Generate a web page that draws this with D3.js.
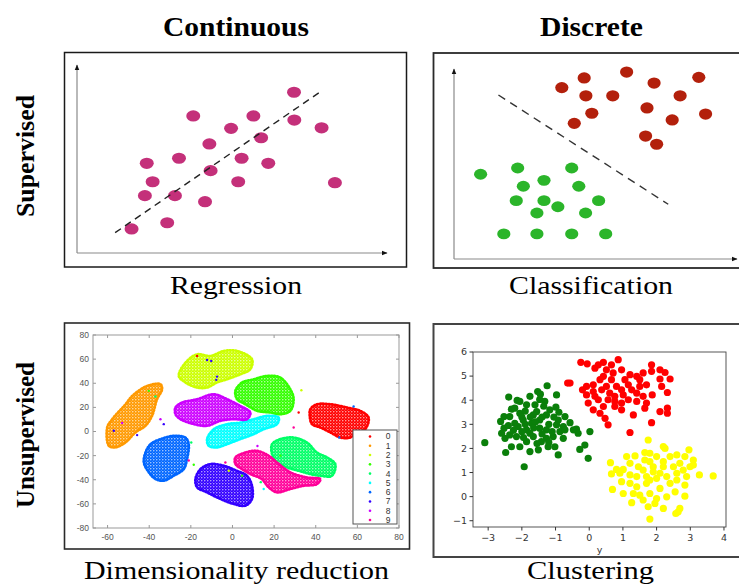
<!DOCTYPE html>
<html lang="en">
<head>
<meta charset="UTF-8">
<title>Types of machine learning</title>
<style>
  body { margin: 0; background: #fff; }
  svg { display: block; }
</style>
</head>
<body>
<svg id="chart"></svg>
<script src="https://cdn.jsdelivr.net/npm/d3@7/dist/d3.min.js"></script>
<script>
// ---- data ----
var colTitles = ["Continuous", "Discrete"];
var rowTitles = ["Supervised", "Unsupervised"];
var captions = ["Regression", "Classification", "Dimensionality reduction", "Clustering"];

// regression (arbitrary 0-10 units)
var regX = [7.0, 3.75, 5.69, 7.01, 4.97, 7.89, 5.94, 4.27, 2.25, 3.29, 5.31, 6.17, 4.31, 2.44, 5.2, 8.32, 2.19, 3.16, 4.13, 2.91, 1.76];
var regY = [8.55, 7.29, 7.29, 7.07, 6.63, 6.66, 6.13, 5.8, 4.77, 5.04, 5.04, 4.77, 4.38, 3.79, 3.79, 3.74, 3.05, 3.05, 2.73, 1.61, 1.28];
var regLine = [[1.23, 1.08], [7.9, 8.63]];

// classification (0-10 units)
var clsRedX = [3.81, 4.6, 6.1, 7.07, 8.65, 4.66, 5.61, 7.99, 6.82, 7.71, 8.89, 4.87, 4.25, 6.77, 7.16];
var clsRedY = [9.02, 9.53, 9.84, 9.26, 9.56, 8.59, 8.59, 8.59, 7.95, 7.32, 7.63, 7.67, 7.14, 6.47, 6.04];
var clsGreenX = [0.94, 2.25, 4.16, 3.18, 2.45, 4.41, 2.2, 3.18, 3.67, 5.11, 2.93, 4.65, 1.76, 2.93, 4.16, 5.36];
var clsGreenY = [4.46, 4.79, 4.79, 4.14, 3.83, 3.83, 3.07, 3.07, 2.75, 3.07, 2.42, 2.42, 1.32, 1.32, 1.32, 1.32];
var clsLine = [[1.57, 8.63], [7.57, 2.88]];

// t-SNE embedding: outline of each digit cluster
var tsneClasses = ["0", "1", "2", "3", "4", "5", "6", "7", "8", "9"];
var tsneXTicks = [-60, -40, -20, 0, 20, 40, 60, 80];
var tsneYTicks = [-80, -60, -40, -20, 0, 20, 40, 60, 80];
var hull0 = [[37.4,18.5],[40.6,22.6],[47,22.6],[55,19.9],[61.4,17.1],[65.4,11.6],[63.8,1.9],[59.8,-0.8],[56.6,-5],[51.8,-5],[47,-0.8],[42.2,3.3],[38.2,6.1],[37.1,13]];
var hull1 = [[-60.2,3.3],[-57.8,10.2],[-51.4,22.6],[-48.2,29.5],[-41,37.8],[-34.6,39.2],[-33.8,35],[-36.2,26.8],[-38.6,13],[-41.8,4.7],[-46.6,-0.8],[-51.4,-9.1],[-56.2,-13.2],[-59.4,-11.9]];
var hull2 = [[-25.8,46.1],[-22.6,57.1],[-17,64],[-10.6,62.6],[-4.2,66.8],[2.2,66.8],[9.4,59.9],[8.6,51.6],[3.8,47.4],[-2.6,43.3],[-7.4,40.6],[-12.2,36.4],[-17,36.4],[-22.6,40.6]];
var hull3 = [[1.4,33.7],[4.6,40.6],[10.2,43.3],[16.6,46.1],[23,44.7],[27.8,35],[29.4,26.8],[27.8,17.1],[23,14.3],[18.2,15.7],[11.8,17.1],[6.2,22.6],[2.2,26.8]];
var hull4 = [[19,-10.5],[23,-6.3],[29.4,-5],[35.8,-9.1],[40.6,-17.4],[45.4,-21.5],[49.4,-27],[47.8,-36.7],[42.2,-36.7],[37.4,-35.3],[31.8,-32.6],[26.2,-29.8],[21.4,-25.7],[19,-18.8]];
var hull5 = [[-12.2,-6.3],[-9,1.9],[-2.6,6.1],[3.8,7.4],[10.2,10.2],[16.6,13],[22.2,11.6],[21.4,6.1],[15,1.9],[10.2,-2.2],[3.8,-6.3],[-2.6,-10.5],[-7.4,-13.2],[-11.4,-11.9]];
var hull6 = [[-41.8,-17.4],[-39.4,-10.5],[-34.6,-6.3],[-28.2,-3.6],[-22.6,-5],[-21,-10.5],[-21.8,-22.9],[-23.4,-31.2],[-28.2,-36.7],[-33,-40.8],[-37,-39.4],[-40.2,-33.9],[-42.6,-25.7]];
var hull7 = [[-17.8,-39.4],[-15.4,-31.2],[-10.6,-27],[-4.2,-28.4],[2.2,-32.6],[7,-36.7],[9.4,-45],[9.4,-56],[6.2,-61.5],[0.6,-60.1],[-5.8,-56],[-12.2,-50.5],[-17,-46.3]];
var hull8 = [[-27.4,19.9],[-24.2,24],[-17,26.8],[-9,30.9],[-2.6,26.8],[3.8,21.2],[8.6,15.7],[7,10.2],[0.6,10.2],[-5.8,8.8],[-12.2,4.7],[-18.6,6.1],[-25,10.2],[-27.4,14.3]];
var hull9 = [[1.4,-21.5],[6.2,-17.4],[11.8,-16],[17.4,-20.1],[21.4,-25.7],[27.8,-33.9],[35.8,-38.1],[42.2,-39.4],[40.6,-43.6],[34.2,-45],[27.8,-47.7],[21.4,-50.5],[17.4,-46.3],[14,-39.4],[8.6,-35.3],[4.6,-31.2],[1.4,-27]];
var tsneHulls = [hull0, hull1, hull2, hull3, hull4, hull5, hull6, hull7, hull8, hull9];
// stray points: [x, y, class]
var tsneStray = [[-17,62.6,0],[-12.2,59.3,7],[-10.2,58.5,7],[-7.4,45.5,7],[-7.8,42.8,7],[-34.6,10.2,8],[-33,6.1,7],[-57,0.6,7],[-53,7,8],[-45.8,-3,7],
  [-18.6,-27.6,3],[-23,-12,6],[-19.8,-9.1,4],[13.6,-42,4],[15,-47.7,5],[33.1,34.2,2],[31.8,15.7,0],[29.4,3.3,9],[51.3,-5,6],[58.2,20.7,6],
  [23,-20,3],[-3.4,-25.7,9],[-1.8,-32.6,2],[4.6,-36.7,3],[-40.2,33.7,3],[-37,29,4],[-21,-24,9],[12,-12,8]];

// clustering: [x, y] per cluster
var greenPts = [[-3.1,2.24],[-1.93,1.24],[-2.39,4.13],[-2.63,3.12],[-2.48,1.83],[-2.31,3.63],[-2.14,3.99],[-2.06,3.95],[-1.76,4.16],[-1.53,4.36],[-1.25,4.6],[-1.32,3.95],[-0.97,4.22],[-0.99,3.71],[-0.92,1.73],[-0.72,3.32],[-0.57,3.07],[-0.38,2.8],[-0.33,2.63],[-0.13,2.14],[-0.28,1.96],[0.02,2.7],[-0.03,1.59],[-1.76,1.87],[-1.51,1.94],[-1.22,2.07],[-1.42,2.28],[-2.06,2.07],[-2.31,2.07],[-2.5,2.42],[-2.53,2.84],[-2.53,3.32],[-2.36,3.32],[-2.11,2.91],[-1.86,2.77],[-1.66,2.49],[-1.47,3.18],[-1.27,2.77],[-1.07,2.49],[-0.87,2.7],[-0.77,2.91],[-1.17,3.6],[-1.56,3.53],[-1.86,3.81],[-2.06,3.46],[-1.71,3.04],[-2.21,3.04],[-1.96,3.18],[-0.77,2.42],[-0.47,2.77],[-1.27,2.42],[-1.86,2.28],[-2.16,2.49],[-1.02,2.07],[-1.47,4.03],[-1.61,3.81],[-1.27,3.39],[-0.92,3.18],[-0.72,2.77],[-2.6,2.63],[-2.36,2.56],[-1.76,2.63],[-1.47,2.84],[-0.97,2.98],[-2.21,3.67],[-1.66,3.39],
  [-2.0,2.7],[-1.9,3.0],[-1.6,3.1],[-1.4,2.6],[-1.2,3.0],[-1.05,3.3],[-1.35,3.75],[-1.9,3.55],[-2.25,2.75],[-1.55,2.2],[-1.1,2.7],[-2.0,3.3],[-1.75,3.3],[-1.4,3.3],[-1.65,2.85],[-2.4,2.95],[-1.2,2.25],[-0.9,3.5],[-1.45,4.25],[-1.95,2.45]];
var redPts = [[-0.25,5.57],[-0.06,5.51],[-0.64,4.71],[-0.57,4.71],[-0.2,4.43],[-0.08,4.57],[0.12,4.64],[0.17,5.33],[0.27,5.47],[0.42,5.57],[0.66,5.47],[0.86,5.68],[0.96,5.26],[1.21,5.06],[1.41,4.99],[1.85,5.47],[1.85,5.2],[2.1,5.26],[2.25,5.15],[2.4,4.88],[2.1,4.88],[2.15,4.57],[2.32,4.32],[2.1,3.53],[2.32,3.67],[2.32,3.46],[1.85,3.07],[1.21,2.66],[0.56,2.98],[0.12,3.6],[0.32,3.46],[0.47,3.25],[0.96,3.6],[1.31,3.39],[1.65,3.67],[1.6,4.16],[1.87,4.22],[1.7,4.64],[-0.03,3.88],[0.17,4.16],[0.37,4.43],[0.56,4.02],[0.76,4.16],[0.96,4.43],[1.16,4.02],[1.41,4.29],[1.5,4.57],[0.42,4.99],[0.66,4.85],[0.81,4.57],[0.61,4.29],[1.16,4.64],[1.41,3.95],[0.96,3.88],[0.76,3.74],[0.42,3.74],[0.27,4.02],[-0.08,4.22],[0.12,4.36],[1.06,4.85],[1.5,4.85],[1.6,5.13],[0.51,5.26],[0.71,5.13],[0.32,4.85],[1.01,4.22],[1.26,4.43],[0.51,4.57],[0.76,3.95],[1.7,3.88]];
var yellowPts = [[1.75,2.35],[2.2,2.08],[2.25,2.0],[2.96,1.94],[3.09,1.52],[3.09,1.31],[2.99,1.24],[3.27,0.9],[3.68,0.86],[2.89,0.83],[2.84,0.48],[2.84,0.02],[2.64,-0.63],[2.57,-0.7],[2.69,-0.49],[2.2,-0.49],[1.8,-0.93],[1.75,-0.42],[1.26,-0.25],[1.01,0.13],[0.69,0.3],[0.96,0.62],[0.91,0.97],[0.66,0.94],[0.63,1.41],[0.81,1.13],[1.01,1.13],[1.21,1.38],[1.36,1.69],[1.65,1.83],[1.8,1.8],[1.65,1.52],[2.0,1.66],[2.4,1.66],[2.6,1.73],[2.69,1.38],[2.5,1.24],[2.2,1.24],[1.9,1.24],[1.6,1.1],[1.41,0.83],[1.21,0.55],[1.41,0.41],[1.7,0.55],[2.0,0.76],[2.3,0.83],[2.6,0.97],[2.79,1.1],[2.4,0.55],[2.1,0.34],[1.8,0.13],[1.5,0.06],[2.0,-0.08],[2.3,-0.01],[2.55,0.2],[1.7,0.83],[1.9,1.03],[2.1,0.97],[2.2,1.45],[1.8,1.45],[1.46,1.24],[1.21,0.9],[1.6,-0.14],[1.95,-0.28],[2.6,0.69],[2.84,1.66],[1.11,1.66],[1.31,0.13],[1.8,0.69]];
var clusXTicks = [-3, -2, -1, 0, 1, 2, 3, 4];
var clusYTicks = [-1, 0, 1, 2, 3, 4, 5, 6];

// ---- drawing ----
var svg = d3.select("#chart").attr("width", 739).attr("height", 585);
var defs = svg.append("defs");
var serif = "'Liberation Serif', 'Times New Roman', serif";
var sans = "'Liberation Sans', Arial, sans-serif";

var mk = defs.append("marker")
  .attr("id", "arrow").attr("viewBox", "0 0 10 10")
  .attr("refX", 9).attr("refY", 5)
  .attr("markerWidth", 5).attr("markerHeight", 5)
  .attr("orient", "auto");
mk.append("path").attr("d", "M0,1L10,5L0,9Z").attr("fill", "#111");

// headings
function heading(txt, x, y, size, weight, len, rot) {
  var t = svg.append("text")
    .attr("text-anchor", "middle")
    .attr("font-family", serif)
    .attr("font-size", size)
    .attr("font-weight", weight)
    .attr("textLength", len)
    .attr("lengthAdjust", "spacingAndGlyphs")
    .text(txt);
  if (rot) t.attr("transform", "translate(" + x + "," + y + ") rotate(-90)");
  else t.attr("x", x).attr("y", y);
}
heading(colTitles[0], 236, 36, 27, "bold", 146);
heading(colTitles[1], 591.5, 36, 27, "bold", 103);
heading(rowTitles[0], 34, 156, 26, "bold", 122, true);
heading(rowTitles[1], 34, 435, 26, "bold", 146, true);
heading(captions[0], 236, 294, 26, "normal", 132);
heading(captions[1], 591, 294, 26, "normal", 164);
heading(captions[2], 236.5, 579, 25, "normal", 305);
heading(captions[3], 590.5, 579, 25, "normal", 127);

// panel frames
function frame(x, y, w, h, col, sw) {
  svg.append("rect").attr("x", x).attr("y", y).attr("width", w).attr("height", h)
    .attr("fill", "none").attr("stroke", col).attr("stroke-width", sw);
}
frame(64.5, 52.5, 342, 214.5, "#1a1a1a", 1.5);
frame(433.5, 53, 330, 215, "#2a2a2a", 1.8);
frame(64.5, 323, 345, 226, "#2a2a2a", 1.6);
frame(433.5, 324, 330, 233, "#444", 2);

// arrow axes for the sketch panels
function arrowAxes(g, x, y) {
  var x0 = x.range()[0], y0 = y.range()[0];
  g.append("line").attr("x1", x0).attr("y1", y0).attr("x2", x.range()[1]).attr("y2", y0)
    .attr("stroke", "#8a8a8a").attr("stroke-width", 1.2).attr("marker-end", "url(#arrow)");
  g.append("line").attr("x1", x0).attr("y1", y0).attr("x2", x0).attr("y2", y.range()[1])
    .attr("stroke", "#8a8a8a").attr("stroke-width", 1.2).attr("marker-end", "url(#arrow)");
}

// Regression
var rX = d3.scaleLinear().domain([0, 10]).range([77, 387]);
var rY = d3.scaleLinear().domain([0, 10]).range([253, 65]);
var gReg = svg.append("g");
arrowAxes(gReg, rX, rY);
gReg.selectAll("ellipse").data(regX).enter().append("ellipse")
  .attr("cx", d => rX(d)).attr("cy", (d, i) => rY(regY[i]))
  .attr("rx", 7).attr("ry", 5.6).attr("fill", "#c4307a");
gReg.append("path")
  .attr("d", d3.line().x(d => rX(d[0])).y(d => rY(d[1]))(regLine))
  .attr("stroke", "#222").attr("stroke-width", 1.4).attr("stroke-dasharray", "7,5").attr("fill", "none");

// Classification
var cX = d3.scaleLinear().domain([0, 10]).range([454, 737]);
var cY = d3.scaleLinear().domain([0, 10]).range([259, 69]);
var gCls = svg.append("g");
arrowAxes(gCls, cX, cY);
gCls.selectAll(".red").data(clsRedX).enter().append("ellipse").attr("class", "red")
  .attr("cx", d => cX(d)).attr("cy", (d, i) => cY(clsRedY[i]))
  .attr("rx", 6.6).attr("ry", 5.6).attr("fill", "#b3200c");
gCls.selectAll(".green").data(clsGreenX).enter().append("ellipse").attr("class", "green")
  .attr("cx", d => cX(d)).attr("cy", (d, i) => cY(clsGreenY[i]))
  .attr("rx", 6.6).attr("ry", 5.4).attr("fill", "#2bb52a");
gCls.append("path")
  .attr("d", d3.line().x(d => cX(d[0])).y(d => cY(d[1]))(clsLine))
  .attr("stroke", "#333").attr("stroke-width", 1.4).attr("stroke-dasharray", "8,6").attr("fill", "none");

// t-SNE
var tColors = tsneClasses.map((c, i) => d3.hsl(i * 36, 1, 0.5).formatHex());
var tX = d3.scaleLinear().domain([-67, 80]).range([93, 399]);
var tY = d3.scaleLinear().domain([-80, 80]).range([528, 335]);
var gT = svg.append("g");
// grainy fill so the clusters read as clouds of small points
tColors.forEach(function (c, i) {
  var p = defs.append("pattern").attr("id", "speck" + i)
    .attr("patternUnits", "userSpaceOnUse").attr("width", 3).attr("height", 3);
  p.append("rect").attr("width", 3).attr("height", 3).attr("fill", c);
  p.append("circle").attr("cx", 0.8).attr("cy", 0.8).attr("r", 0.7).attr("fill", "#fff").attr("opacity", 0.8);
  p.append("circle").attr("cx", 2.3).attr("cy", 2.2).attr("r", 0.45).attr("fill", "#fff").attr("opacity", 0.6);
});
var blob = d3.line().x(d => tX(d[0])).y(d => tY(d[1])).curve(d3.curveCatmullRomClosed.alpha(0.5));
gT.selectAll(".hull").data(tsneHulls).enter().append("path").attr("class", "hull")
  .attr("d", d => blob(d))
  .attr("fill", (d, i) => "url(#speck" + i + ")")
  .attr("stroke", (d, i) => tColors[i]).attr("stroke-width", 2.6)
  .attr("stroke-dasharray", "1.2,1.8").attr("stroke-linecap", "round");
gT.selectAll(".stray").data(tsneStray).enter().append("circle").attr("class", "stray")
  .attr("cx", d => tX(d[0])).attr("cy", d => tY(d[1])).attr("r", 1.2)
  .attr("fill", d => tColors[d[2]]);
gT.append("rect").attr("x", tX.range()[0]).attr("y", tY.range()[1])
  .attr("width", tX.range()[1] - tX.range()[0]).attr("height", tY.range()[0] - tY.range()[1])
  .attr("fill", "none").attr("stroke", "#999").attr("stroke-width", 1);
tsneXTicks.forEach(function (t) {
  [[tY.range()[0], -3], [tY.range()[1], 3]].forEach(function (s) {
    gT.append("line").attr("x1", tX(t)).attr("x2", tX(t)).attr("y1", s[0]).attr("y2", s[0] + s[1]).attr("stroke", "#999");
  });
  gT.append("text").attr("x", tX(t)).attr("y", 540).attr("text-anchor", "middle")
    .attr("font-family", sans).attr("font-size", 8.5).attr("fill", "#555").text(t);
});
tsneYTicks.forEach(function (t) {
  [[tX.range()[0], 3], [tX.range()[1], -3]].forEach(function (s) {
    gT.append("line").attr("y1", tY(t)).attr("y2", tY(t)).attr("x1", s[0]).attr("x2", s[0] + s[1]).attr("stroke", "#999");
  });
  gT.append("text").attr("x", 89).attr("y", tY(t)).attr("dy", "0.35em").attr("text-anchor", "end")
    .attr("font-family", sans).attr("font-size", 8.5).attr("fill", "#555").text(t);
});
// legend
var lg = gT.append("g").attr("transform", "translate(353,430)");
lg.append("rect").attr("width", 44).attr("height", 94).attr("fill", "#fff").attr("stroke", "#555");
var lRow = d3.scalePoint().domain(tsneClasses).range([6.5, 90]);
lg.selectAll("circle").data(tsneClasses).enter().append("circle")
  .attr("cx", 17).attr("cy", d => lRow(d)).attr("r", 1.3).attr("fill", (d, i) => tColors[i]);
lg.selectAll("text").data(tsneClasses).enter().append("text")
  .attr("x", 35).attr("y", d => lRow(d)).attr("dy", "0.35em").attr("text-anchor", "middle")
  .attr("font-family", sans).attr("font-size", 8.5).attr("fill", "#333").text(d => d);

// Clustering
var kX = d3.scaleLinear().domain([-3.45, 4.06]).range([473, 726]);
var kY = d3.scaleLinear().domain([-1.26, 6]).range([527, 352]);
var gK = svg.append("g");
[[greenPts, "#0a7f0a"], [redPts, "#ff0000"], [yellowPts, "#ffff00"]].forEach(function (s) {
  gK.append("g").selectAll("circle").data(s[0]).enter().append("circle")
    .attr("cx", d => kX(d[0])).attr("cy", d => kY(d[1])).attr("r", 3.6).attr("fill", s[1]);
});
gK.append("rect").attr("x", kX.range()[0]).attr("y", kY.range()[1])
  .attr("width", kX.range()[1] - kX.range()[0]).attr("height", kY.range()[0] - kY.range()[1])
  .attr("fill", "none").attr("stroke", "#444").attr("stroke-width", 0.9);
var fmt = d => (d < 0 ? "\u2212" + Math.abs(d) : String(d));
clusXTicks.forEach(function (t) {
  gK.append("line").attr("x1", kX(t)).attr("x2", kX(t)).attr("y1", 527).attr("y2", 530.5).attr("stroke", "#333");
  gK.append("text").attr("x", kX(t)).attr("y", 541).attr("text-anchor", "middle")
    .attr("font-family", "'DejaVu Sans', sans-serif").attr("font-size", 9.5).attr("fill", "#333").text(fmt(t));
});
clusYTicks.forEach(function (t) {
  gK.append("line").attr("y1", kY(t)).attr("y2", kY(t)).attr("x1", 473).attr("x2", 469.5).attr("stroke", "#333");
  gK.append("text").attr("x", 467).attr("y", kY(t)).attr("dy", "0.35em").attr("text-anchor", "end")
    .attr("font-family", "'DejaVu Sans', sans-serif").attr("font-size", 9.5).attr("fill", "#333").text(fmt(t));
});
gK.append("text").attr("x", 599.5).attr("y", 553).attr("text-anchor", "middle")
  .attr("font-family", "'DejaVu Sans', sans-serif").attr("font-size", 9.5).attr("fill", "#333").text("y");
</script>
</body>
</html>
